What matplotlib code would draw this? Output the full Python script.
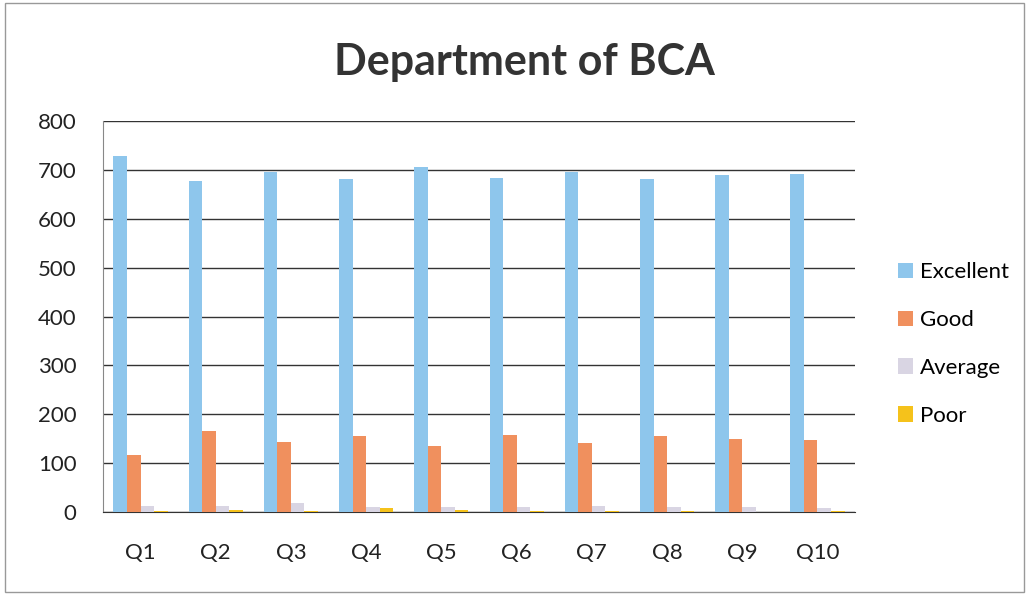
import numpy as np
import matplotlib.pyplot as plt

# Werte
fragen = ["Q1", "Q2", "Q3", "Q4", "Q5", "Q6", "Q7", "Q8", "Q9", "Q10"]
excellent = [729, 676, 695, 681, 706, 684, 695, 682, 689, 692]
good = [117, 167, 143, 156, 135, 158, 142, 156, 149, 147]
average = [12, 12, 18, 11, 10, 11, 13, 11, 11, 8]
poor = [2, 4, 2, 8, 5, 2, 3, 3, 1, 3]

serien = ["Excellent", "Good", "Average", "Poor"]
farben = ["#8ec6ec", "#f0905e", "#d9d5e3", "#f5c21b"]

plt.rcParams['font.family'] = ['Lato', 'DejaVu Sans']

fig = plt.figure(figsize=(10.29, 5.95), dpi=100)
ax = fig.add_axes([0.1, 0.139, 0.731, 0.658])

x = np.arange(len(fragen))
breite = 0.18
for i, (werte, name, farbe) in enumerate(zip([excellent, good, average, poor], serien, farben)):
    ax.bar(x + (i - 1.5) * breite, werte, breite, color=farbe, label=name, zorder=3)

ax.set_xlim(-0.5, len(fragen) - 0.5)
ax.set_ylim(0, 800)
ax.set_yticks(range(0, 801, 100))
ax.set_xticks(x)
ax.set_xticklabels(fragen)
ax.tick_params(axis='both', length=0, labelsize=16, colors='#222222')
ax.tick_params(axis='x', pad=22)
ax.tick_params(axis='y', pad=19)
ax.yaxis.grid(True, color='#333333', linewidth=1.0, zorder=0)
for s in ['top', 'right']:
    ax.spines[s].set_visible(False)
ax.spines['left'].set_color('#888888')
ax.spines['bottom'].set_color('#333333')

ax.legend(loc='center left', bbox_to_anchor=(1.03, 0.43), frameon=False, fontsize=16,
          handlelength=0.7, handleheight=0.7, handletextpad=0.3, labelspacing=1.25)

fig.text(0.51, 0.895, "Department of BCA", ha='center', va='center', fontsize=31,
         fontweight='bold', color='#333333')

# Rahmen um die ganze Grafik
fig.patches.append(plt.Rectangle((0.005, 0.005), 0.99, 0.99, transform=fig.transFigure,
                                 fill=False, edgecolor='#999999', linewidth=1))

plt.savefig('out.png', dpi=100)
